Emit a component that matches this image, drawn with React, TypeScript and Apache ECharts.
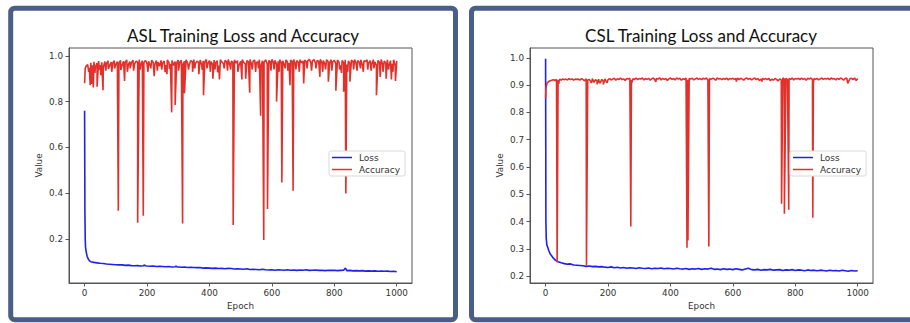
import React, { useEffect, useRef } from "react";
import * as echarts from "echarts";

// ---------- DATA ----------
const xTickLabels = [0, 200, 400, 600, 800, 1000];
const aslYTicks = [0.2, 0.4, 0.6, 0.8, 1.0];
const cslYTicks = [0.2, 0.3, 0.4, 0.5, 0.6, 0.7, 0.8, 0.9, 1.0];
const seriesNames = ["Loss", "Accuracy"];
const panelTitles = ["ASL Training Loss and Accuracy", "CSL Training Loss and Accuracy"];

// ASL accuracy sampled every 5 epochs (0..1000)
const aslAccStep = 5;
const aslAccBase = [
  0.880, 0.955, 0.962, 0.948, 0.970, 0.958, 0.974, 0.952, 0.968, 0.977, 0.960, 0.972, 0.950, 0.975, 0.966, 0.978, 0.957, 0.973, 0.968, 0.979, 0.962,
  0.975, 0.968, 0.980, 0.958, 0.976, 0.971, 0.982, 0.960, 0.975, 0.969, 0.981, 0.964, 0.977, 0.972, 0.983, 0.961, 0.978, 0.970, 0.980, 0.966,
  0.976, 0.958, 0.981, 0.970, 0.962, 0.979, 0.973, 0.955, 0.980, 0.968, 0.977, 0.960, 0.982, 0.971, 0.965, 0.979, 0.958, 0.975, 0.969, 0.981,
  0.972, 0.980, 0.963, 0.976, 0.982, 0.970, 0.958, 0.979, 0.974, 0.983, 0.966, 0.977, 0.971, 0.981, 0.962, 0.978, 0.973, 0.984, 0.967, 0.979,
  0.975, 0.962, 0.981, 0.970, 0.978, 0.957, 0.983, 0.972, 0.966, 0.980, 0.974, 0.984, 0.963, 0.977, 0.971, 0.982, 0.968, 0.979, 0.960, 0.976,
  0.983, 0.970, 0.965, 0.979, 0.973, 0.984, 0.962, 0.977, 0.981, 0.969, 0.975, 0.983, 0.958, 0.978, 0.972, 0.982, 0.966, 0.979, 0.974, 0.984,
  0.970, 0.980, 0.963, 0.976, 0.983, 0.971, 0.978, 0.960, 0.982, 0.974, 0.968, 0.981, 0.976, 0.984, 0.965, 0.979, 0.972, 0.983, 0.969, 0.977,
  0.982, 0.974, 0.979, 0.984, 0.970, 0.978, 0.983, 0.967, 0.980, 0.975, 0.984, 0.971, 0.979, 0.963, 0.982, 0.976, 0.969, 0.983, 0.974, 0.980,
  0.966, 0.981, 0.973, 0.958, 0.979, 0.970, 0.983, 0.962, 0.977, 0.968, 0.981, 0.974, 0.984, 0.967, 0.979, 0.972, 0.983, 0.960, 0.978, 0.975,
  0.982, 0.969, 0.979, 0.963, 0.983, 0.974, 0.958, 0.980, 0.971, 0.984, 0.962, 0.977, 0.968, 0.982, 0.955, 0.979, 0.965, 0.983, 0.960, 0.978,
];
// ASL accuracy drops [epoch, value]
const aslAccDips: [number, number][] = [
  [2, 0.945], [13, 0.93], [18, 0.872], [22, 0.877], [28, 0.862], [33, 0.925], [40, 0.865], [47, 0.94],
  [52, 0.915], [59, 0.85], [68, 0.935], [76, 0.942], [87, 0.93], [96, 0.945], [108, 0.324], [116, 0.938],
  [128, 0.89], [137, 0.93], [146, 0.945], [157, 0.935], [170, 0.271], [178, 0.94], [188, 0.302],
  [203, 0.93], [212, 0.945], [223, 0.911], [233, 0.935], [247, 0.94], [258, 0.928], [264, 0.92],
  [272, 0.942], [279, 0.753], [290, 0.785], [301, 0.935], [314, 0.268], [320, 0.836], [333, 0.94],
  [346, 0.93], [353, 0.945], [366, 0.92], [377, 0.938], [381, 0.828], [392, 0.945], [403, 0.93],
  [411, 0.9], [418, 0.94], [426, 0.928], [432, 0.897], [447, 0.945], [458, 0.935], [468, 0.94],
  [476, 0.261], [491, 0.93], [504, 0.897], [516, 0.9], [529, 0.839], [537, 0.94], [548, 0.93],
  [557, 0.945], [564, 0.738], [574, 0.196], [586, 0.331], [597, 0.935], [607, 0.94], [615, 0.8],
  [623, 0.93], [632, 0.447], [643, 0.945], [651, 0.935], [658, 0.872], [668, 0.411], [677, 0.94],
  [688, 0.93], [702, 0.879], [713, 0.945], [727, 0.935], [741, 0.945], [754, 0.908], [763, 0.93],
  [772, 0.94], [781, 0.887], [792, 0.935], [805, 0.847], [817, 0.94], [823, 0.925], [830, 0.843],
  [837, 0.399], [843, 0.93], [850, 0.887], [862, 0.94], [873, 0.935], [884, 0.945], [893, 0.93],
  [907, 0.94], [918, 0.935], [927, 0.945], [935, 0.828], [947, 0.908], [956, 0.93], [966, 0.9],
  [974, 0.94], [983, 0.897], [988, 0.93], [996, 0.89],
];
// ASL loss [epoch, value]
const aslLoss: [number, number][] = [
  [0, 0.76], [1, 0.32], [2, 0.2], [3, 0.165], [5, 0.145], [8, 0.125], [12, 0.112], [16, 0.105], [20, 0.101],
  [30, 0.098], [40, 0.096], [50, 0.094], [60, 0.093], [70, 0.091], [80, 0.09], [90, 0.089], [100, 0.088],
  [110, 0.087], [120, 0.087], [130, 0.085], [140, 0.086], [150, 0.084], [160, 0.083], [170, 0.084], [180, 0.082],
  [190, 0.083], [191, 0.088], [194, 0.083], [200, 0.082], [210, 0.081], [220, 0.082], [230, 0.08], [240, 0.081],
  [250, 0.08], [260, 0.079], [270, 0.08], [280, 0.078], [290, 0.079], [293, 0.082], [296, 0.078], [300, 0.078],
  [310, 0.077], [320, 0.078], [330, 0.076], [340, 0.077], [350, 0.076], [360, 0.075], [370, 0.076], [380, 0.073],
  [390, 0.074], [400, 0.073], [410, 0.072], [420, 0.073], [430, 0.071], [440, 0.072], [450, 0.07], [460, 0.072],
  [470, 0.071], [480, 0.069], [490, 0.07], [500, 0.069], [510, 0.068], [520, 0.07], [530, 0.067], [540, 0.068],
  [550, 0.067], [560, 0.066], [570, 0.068], [580, 0.066], [590, 0.065], [600, 0.066], [610, 0.064], [620, 0.066],
  [630, 0.065], [640, 0.064], [650, 0.066], [660, 0.064], [670, 0.065], [680, 0.063], [690, 0.065], [700, 0.064],
  [710, 0.066], [720, 0.063], [730, 0.064], [740, 0.065], [750, 0.063], [760, 0.064], [770, 0.062], [780, 0.064],
  [790, 0.063], [800, 0.064], [810, 0.062], [820, 0.063], [830, 0.064], [835, 0.073], [838, 0.068], [840, 0.062],
  [850, 0.063], [860, 0.061], [870, 0.062], [880, 0.061], [890, 0.062], [900, 0.06], [910, 0.061], [920, 0.06],
  [930, 0.061], [940, 0.059], [950, 0.06], [960, 0.059], [970, 0.06], [980, 0.058], [990, 0.059], [1000, 0.057],
];

// CSL accuracy sampled every 5 epochs (0..1000)
const cslAccStep = 5;
const cslAccBase = [
  0.852, 0.908, 0.913, 0.916, 0.918, 0.920, 0.917, 0.921, 0.919, 0.922, 0.918, 0.923, 0.920, 0.922, 0.919, 0.924, 0.920, 0.923, 0.918, 0.922, 0.921,
  0.922, 0.918, 0.924, 0.920, 0.916, 0.923, 0.919, 0.921, 0.912, 0.924, 0.910, 0.920, 0.915, 0.922, 0.908, 0.921, 0.913, 0.923, 0.911, 0.920,
  0.924, 0.919, 0.922, 0.925, 0.918, 0.923, 0.921, 0.926, 0.920, 0.923, 0.917, 0.924, 0.922, 0.925, 0.919, 0.923, 0.921, 0.926, 0.920, 0.924,
  0.922, 0.926, 0.919, 0.924, 0.921, 0.925, 0.918, 0.923, 0.926, 0.920, 0.924, 0.922, 0.927, 0.919, 0.925, 0.921, 0.924, 0.917, 0.923, 0.926,
  0.921, 0.924, 0.919, 0.926, 0.922, 0.925, 0.918, 0.923, 0.921, 0.926, 0.920, 0.924, 0.922, 0.925, 0.919, 0.923, 0.926, 0.921, 0.924, 0.920,
  0.925, 0.922, 0.926, 0.919, 0.924, 0.921, 0.925, 0.923, 0.918, 0.926, 0.922, 0.924, 0.920, 0.925, 0.921, 0.926, 0.919, 0.924, 0.922, 0.925,
  0.921, 0.924, 0.926, 0.920, 0.925, 0.922, 0.918, 0.924, 0.926, 0.921, 0.925, 0.919, 0.923, 0.926, 0.920, 0.924, 0.917, 0.922, 0.925, 0.921,
  0.924, 0.920, 0.925, 0.916, 0.922, 0.918, 0.924, 0.921, 0.915, 0.923, 0.919, 0.926, 0.922, 0.925, 0.920, 0.924, 0.921, 0.926, 0.919, 0.924,
  0.922, 0.925, 0.920, 0.926, 0.921, 0.924, 0.918, 0.925, 0.922, 0.926, 0.920, 0.924, 0.921, 0.925, 0.919, 0.923, 0.926, 0.921, 0.924, 0.922,
  0.925, 0.920, 0.926, 0.922, 0.924, 0.919, 0.925, 0.921, 0.926, 0.923, 0.918, 0.924, 0.926, 0.912, 0.923, 0.925, 0.920, 0.926, 0.917, 0.924,
];
const cslAccDips: [number, number][] = [
  [1, 0.89], [3, 0.9], [37, 0.251], [42, 0.905], [131, 0.239], [147, 0.908], [165, 0.903], [172, 0.91],
  [185, 0.902], [197, 0.909], [273, 0.382], [276, 0.908], [353, 0.912], [453, 0.304], [456, 0.331],
  [523, 0.309], [611, 0.913], [693, 0.913], [756, 0.465], [765, 0.429], [779, 0.443], [856, 0.414],
  [858, 0.91], [968, 0.906],
];
const cslLoss: [number, number][] = [
  [0, 0.997], [1, 0.4], [2, 0.34], [4, 0.315], [7, 0.305], [10, 0.295], [14, 0.283], [18, 0.277], [25, 0.266],
  [32, 0.258], [40, 0.253], [50, 0.249], [60, 0.246], [70, 0.244], [80, 0.245], [90, 0.241], [100, 0.24],
  [110, 0.239], [120, 0.238], [130, 0.236], [140, 0.237], [150, 0.235], [160, 0.236], [170, 0.234], [180, 0.235],
  [190, 0.233], [200, 0.232], [210, 0.234], [220, 0.231], [230, 0.233], [240, 0.23], [250, 0.232], [260, 0.229],
  [270, 0.231], [280, 0.23], [290, 0.228], [300, 0.231], [310, 0.229], [320, 0.228], [330, 0.23], [340, 0.227],
  [350, 0.229], [360, 0.228], [370, 0.23], [380, 0.227], [390, 0.229], [400, 0.228], [410, 0.226], [420, 0.229],
  [430, 0.227], [440, 0.226], [450, 0.228], [460, 0.225], [470, 0.227], [480, 0.226], [490, 0.228], [500, 0.225],
  [510, 0.227], [520, 0.226], [530, 0.229], [540, 0.225], [550, 0.226], [560, 0.224], [570, 0.227], [580, 0.225],
  [590, 0.226], [600, 0.224], [610, 0.227], [620, 0.225], [630, 0.223], [640, 0.226], [650, 0.229], [660, 0.224],
  [670, 0.223], [680, 0.225], [690, 0.222], [700, 0.224], [710, 0.223], [720, 0.225], [730, 0.222], [740, 0.223],
  [750, 0.224], [760, 0.221], [770, 0.223], [780, 0.222], [790, 0.224], [800, 0.221], [810, 0.223], [820, 0.222],
  [830, 0.22], [840, 0.223], [850, 0.221], [860, 0.222], [870, 0.22], [880, 0.222], [890, 0.221], [900, 0.219],
  [910, 0.222], [920, 0.22], [930, 0.221], [940, 0.219], [950, 0.222], [960, 0.22], [970, 0.218], [980, 0.221],
  [990, 0.219], [1000, 0.22],
];

// ---------- helpers ----------
function mergeSeries(base: number[], step: number, extra: [number, number][]): [number, number][] {
  const pts: [number, number][] = base.map((v, i) => [i * step, v] as [number, number]);
  extra.forEach((p) => pts.push(p));
  pts.sort((a, b) => a[0] - b[0]);
  return pts;
}

const BLUE = "#1f1ff2";
const RED = "#e3302a";
const FRAME = "#555";
const TICK_FONT = "DejaVu Sans";

function xAxisFor(gridIndex: number) {
  return {
    type: "value",
    gridIndex,
    min: -49.95,
    max: 1048.95,
    axisLine: { show: true, onZero: false, lineStyle: { color: FRAME, width: 1 } },
    axisTick: { show: true, length: 3.5, customValues: xTickLabels, lineStyle: { color: FRAME } },
    axisLabel: {
      show: true,
      customValues: xTickLabels,
      margin: 5,
      fontSize: 8.8,
      fontFamily: TICK_FONT,
      color: "#333",
      formatter: (v: number) => String(Math.round(v)),
    },
    splitLine: { show: false },
    name: "Epoch",
    nameLocation: "middle",
    nameGap: 17,
    nameTextStyle: { fontSize: 8.8, fontFamily: TICK_FONT, color: "#333" },
  };
}

function yAxisFor(gridIndex: number, min: number, max: number, ticks: number[]) {
  return {
    type: "value",
    gridIndex,
    min,
    max,
    axisLine: { show: true, onZero: false, lineStyle: { color: FRAME, width: 1 } },
    axisTick: { show: true, length: 3.5, customValues: ticks, lineStyle: { color: FRAME } },
    axisLabel: {
      show: true,
      customValues: ticks,
      margin: 6,
      fontSize: 8.8,
      fontFamily: TICK_FONT,
      color: "#333",
      formatter: (v: number) => v.toFixed(1),
    },
    splitLine: { show: false },
    name: "Value",
    nameLocation: "middle",
    nameGap: 26,
    nameRotate: 90,
    nameTextStyle: { fontSize: 8.8, fontFamily: TICK_FONT, color: "#333" },
  };
}

function legendFor(left: number) {
  return {
    data: seriesNames,
    orient: "vertical",
    left,
    top: 151,
    icon: "rect",
    itemWidth: 20,
    itemHeight: 1.5,
    itemGap: 3,
    padding: [2, 5, 2, 3],
    borderColor: "#d9d9d9",
    borderWidth: 1,
    borderRadius: 2,
    backgroundColor: "#fff",
    selectedMode: false,
    textStyle: { fontSize: 9, fontFamily: TICK_FONT, color: "#333", padding: [0, 0, 0, 2] },
  };
}

export default function App() {
  const ref = useRef<HTMLDivElement>(null);

  useEffect(() => {
    if (!ref.current) return;
    const chart = echarts.init(ref.current, undefined, { renderer: "svg" });

    const aslAcc = mergeSeries(aslAccBase, aslAccStep, aslAccDips);
    const cslAcc = mergeSeries(cslAccBase, cslAccStep, cslAccDips);

    const line = (name: string, data: [number, number][], idx: number, color: string) => ({
      name,
      type: "line",
      xAxisIndex: idx,
      yAxisIndex: idx,
      data,
      symbol: "none",
      showSymbol: false,
      lineStyle: { width: 1.6, color },
      itemStyle: { color },
      emphasis: { disabled: true },
    });

    chart.setOption({
      animation: false,
      backgroundColor: "#fff",
      grid: [
        { left: 69, top: 48, width: 343, height: 235, show: true, borderColor: FRAME, borderWidth: 1, backgroundColor: "transparent" },
        { left: 530, top: 48, width: 343, height: 235, show: true, borderColor: FRAME, borderWidth: 1, backgroundColor: "transparent" },
      ],
      xAxis: [xAxisFor(0), xAxisFor(1)],
      yAxis: [yAxisFor(0, 0.008, 1.034, aslYTicks), yAxisFor(1, 0.175, 1.036, cslYTicks)],
      legend: [legendFor(329), legendFor(790)],
      title: [
        {
          text: panelTitles[0],
          left: 238,
          top: 22,
          textAlign: "center",
          textStyle: { fontFamily: "Lato", fontSize: 17, fontWeight: "normal", color: "#111" },
        },
        {
          text: panelTitles[1],
          left: 696,
          top: 22,
          textAlign: "center",
          textStyle: { fontFamily: "Lato", fontSize: 17, fontWeight: "normal", color: "#111" },
        },
      ],
      graphic: [
        {
          type: "rect",
          shape: { x: 10.7, y: 8.2, width: 444.8, height: 311.5, r: 4 },
          style: { fill: "none", stroke: "#4a5e88", lineWidth: 5 },
          silent: true,
        },
        {
          type: "rect",
          shape: { x: 471.5, y: 8.2, width: 460, height: 311.5, r: 4 },
          style: { fill: "none", stroke: "#4a5e88", lineWidth: 5 },
          silent: true,
        },
      ],
      series: [
        line("Loss", aslLoss, 0, BLUE),
        line("Accuracy", aslAcc, 0, RED),
        line("Loss", cslLoss, 1, BLUE),
        line("Accuracy", cslAcc, 1, RED),
      ],
    });

    return () => chart.dispose();
  }, []);

  return (
    <div
      ref={ref}
      style={{ position: "fixed", left: 0, top: 0, width: 910, height: 323 }}
    />
  );
}
